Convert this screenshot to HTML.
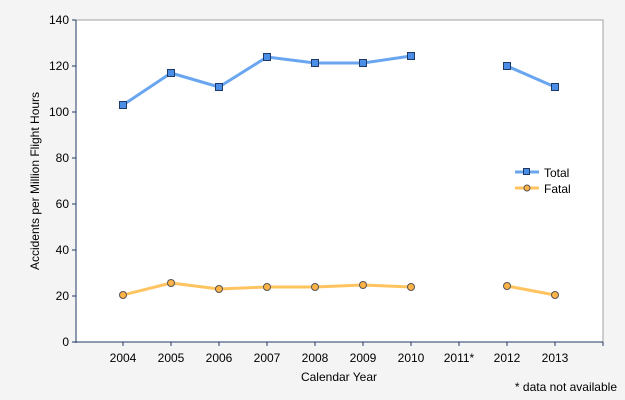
<!DOCTYPE html><html><head><style>body{margin:0;background:#f4f4f4}svg{display:block;font-family:"Liberation Sans",sans-serif}</style></head><body>
<svg width="625" height="400" xmlns="http://www.w3.org/2000/svg">
<rect width="625" height="400" fill="#f4f4f4"/>
<rect x="76" y="20" width="527" height="322" fill="#fff" stroke="#a0a0a0"/>
<g stroke="#1f3864" stroke-width="1">
<line x1="76" y1="20" x2="76" y2="343"/><line x1="72" y1="342" x2="603" y2="342"/>
<line x1="72" y1="20" x2="76" y2="20"/><line x1="72" y1="66" x2="76" y2="66"/><line x1="72" y1="112" x2="76" y2="112"/><line x1="72" y1="158" x2="76" y2="158"/><line x1="72" y1="204" x2="76" y2="204"/><line x1="72" y1="250" x2="76" y2="250"/><line x1="72" y1="296" x2="76" y2="296"/>
<line x1="123" y1="342" x2="123" y2="346"/><line x1="171" y1="342" x2="171" y2="346"/><line x1="219" y1="342" x2="219" y2="346"/><line x1="267" y1="342" x2="267" y2="346"/><line x1="315" y1="342" x2="315" y2="346"/><line x1="363" y1="342" x2="363" y2="346"/><line x1="411" y1="342" x2="411" y2="346"/><line x1="459" y1="342" x2="459" y2="346"/><line x1="507" y1="342" x2="507" y2="346"/><line x1="555" y1="342" x2="555" y2="346"/><line x1="603" y1="342" x2="603" y2="346"/>
</g>
<g font-size="12" fill="#000" text-anchor="end">
<text x="69" y="24">140</text><text x="69" y="70">120</text><text x="69" y="116">100</text><text x="69" y="162">80</text><text x="69" y="208">60</text><text x="69" y="254">40</text><text x="69" y="300">20</text><text x="69" y="346">0</text>
</g>
<g font-size="12" fill="#000" text-anchor="middle">
<text x="123" y="362">2004</text><text x="171" y="362">2005</text><text x="219" y="362">2006</text><text x="267" y="362">2007</text><text x="315" y="362">2008</text><text x="363" y="362">2009</text><text x="411" y="362">2010</text><text x="459" y="362">2011*</text><text x="507" y="362">2012</text><text x="555" y="362">2013</text>
<text x="339" y="381">Calendar Year</text>
<text transform="translate(39,181) rotate(-90)">Accidents per Million Flight Hours</text>
</g>
<text x="617" y="391" font-size="12" text-anchor="end">* data not available</text>
<g fill="none" stroke-width="3" stroke-linejoin="round">
<polyline stroke="#6aa6f0" points="123,105 171,73 219,87 267,57 315,63 363,63 411,56"/>
<polyline stroke="#6aa6f0" points="507,66 555,87"/>
<polyline stroke="#ffc460" points="123,295 171,283 219,289 267,287 315,287 363,285 411,287"/>
<polyline stroke="#ffc460" points="507,286 555,295"/>
</g>
<g fill="#4a8ee8" stroke="#1f3864" stroke-width="1">
<rect x="119.5" y="101.5" width="7" height="7"/><rect x="167.5" y="69.5" width="7" height="7"/><rect x="215.5" y="83.5" width="7" height="7"/><rect x="263.5" y="53.5" width="7" height="7"/><rect x="311.5" y="59.5" width="7" height="7"/><rect x="359.5" y="59.5" width="7" height="7"/><rect x="407.5" y="52.5" width="7" height="7"/><rect x="503.5" y="62.5" width="7" height="7"/><rect x="551.5" y="83.5" width="7" height="7"/>
</g>
<g fill="#ffb347" stroke="#555" stroke-width="1">
<circle cx="123" cy="295" r="3.5"/><circle cx="171" cy="283" r="3.5"/><circle cx="219" cy="289" r="3.5"/><circle cx="267" cy="287" r="3.5"/><circle cx="315" cy="287" r="3.5"/><circle cx="363" cy="285" r="3.5"/><circle cx="411" cy="287" r="3.5"/><circle cx="507" cy="286" r="3.5"/><circle cx="555" cy="295" r="3.5"/>
</g>
<line x1="515" y1="172" x2="539" y2="172" stroke="#6aa6f0" stroke-width="3"/>
<rect x="523.5" y="168.5" width="6" height="6" fill="#4a8ee8" stroke="#1f3864"/>
<line x1="515" y1="188" x2="539" y2="188" stroke="#ffc460" stroke-width="3"/>
<circle cx="527" cy="188" r="3" fill="#ffb347" stroke="#555"/>
<text x="544" y="177" font-size="12">Total</text>
<text x="544" y="193" font-size="12">Fatal</text>
</svg>
</body></html>
